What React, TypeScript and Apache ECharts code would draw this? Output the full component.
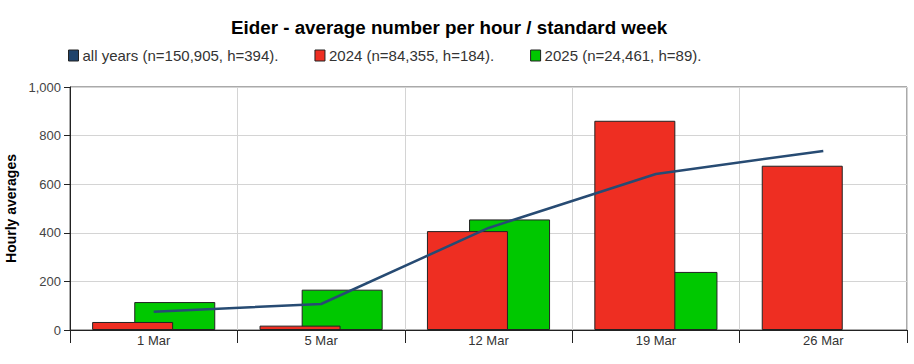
import React, { useEffect, useRef } from "react";
import * as echarts from "echarts";

const categories = ["1 Mar", "5 Mar", "12 Mar", "19 Mar", "26 Mar"];
const allYears = [75, 107, 420, 642, 737];
const values2024 = [33, 18, 407, 861, 676];
const values2025: (number | null)[] = [115, 166, 455, 239, null];
const yTicks = { min: 0, max: 1000, interval: 200 };

const FONT = "'Liberation Sans', Arial, sans-serif";

export default function App() {
  const ref = useRef<HTMLDivElement>(null);
  useEffect(() => {
    if (!ref.current) return;
    const chart = echarts.init(ref.current, undefined, { renderer: "svg" });
    chart.setOption({
      animation: false,
      textStyle: { fontFamily: FONT },
      title: {
        text: "Eider - average number per hour / standard week",
        left: 226,
        top: 13,
        textStyle: { fontFamily: FONT, fontSize: 18.8, fontWeight: "bold", color: "#000" },
      },
      legend: {
        left: 63,
        top: 43,
        itemWidth: 10,
        itemHeight: 11,
        itemGap: 36,
        icon: "rect",
        textStyle: { fontFamily: FONT, fontSize: 15, color: "#333", padding: [0, 0, 0, -1] },
        itemStyle: { borderColor: "#222", borderWidth: 1 },
        data: [
          { name: "all years (n=150,905, h=394).", icon: "rect", itemStyle: { color: "#1f436b", borderColor: "#222", borderWidth: 1 } },
          { name: "2024 (n=84,355, h=184).", icon: "rect" },
          { name: "2025 (n=24,461, h=89).", icon: "rect" },
        ],
      },
      grid: {
        left: 70,
        right: 7,
        top: 87,
        bottom: 34,
        show: true,
        borderColor: "#555",
        borderWidth: 1,
        containLabel: false,
        outerBoundsMode: "none",
      },
      xAxis: {
        type: "category",
        data: categories,
        boundaryGap: true,
        axisLine: { show: true, lineStyle: { color: "#222", width: 1 } },
        axisTick: { show: true, length: 13, lineStyle: { color: "#222", width: 1 } },
        axisLabel: { fontFamily: FONT, fontSize: 13, color: "#333", margin: 4 },
        splitLine: { show: true, lineStyle: { color: "#d4d4d4", width: 1 } },
      },
      yAxis: {
        type: "value",
        min: yTicks.min,
        max: yTicks.max,
        interval: yTicks.interval,
        name: "Hourly averages",
        nameLocation: "middle",
        nameGap: 48,
        nameTextStyle: { fontFamily: FONT, fontSize: 14, fontWeight: "bold", color: "#000" },
        axisLine: { show: true, lineStyle: { color: "#222", width: 1 } },
        axisTick: { show: true, length: 6, lineStyle: { color: "#222", width: 1 } },
        axisLabel: {
          fontFamily: FONT,
          fontSize: 13,
          color: "#444",
          margin: 9,
          formatter: (v: number) => v.toLocaleString("en-US"),
        },
        splitLine: { show: true, lineStyle: { color: "#d4d4d4", width: 1 } },
      },
      series: [
        {
          name: "all years (n=150,905, h=394).",
          type: "line",
          data: allYears,
          showSymbol: false,
          symbol: "none",
          z: 5,
          lineStyle: { color: "#274b73", width: 2.5 },
          itemStyle: { color: "#1f436b" },
        },
        {
          name: "2024 (n=84,355, h=184).",
          type: "bar",
          data: values2024,
          barWidth: 81,
          barGap: "-48%",
          z: 3,
          itemStyle: { color: "#ee2e22", borderColor: "#222", borderWidth: 1 },
        },
        {
          name: "2025 (n=24,461, h=89).",
          type: "bar",
          data: values2025,
          barWidth: 81,
          barGap: "-48%",
          z: 2,
          itemStyle: { color: "#00c800", borderColor: "#222", borderWidth: 1 },
        },
      ],
    });
    return () => chart.dispose();
  }, []);
  return (
    <div
      ref={ref}
      style={{ position: "absolute", left: 0, top: 0, width: 914, height: 364 }}
    />
  );
}
